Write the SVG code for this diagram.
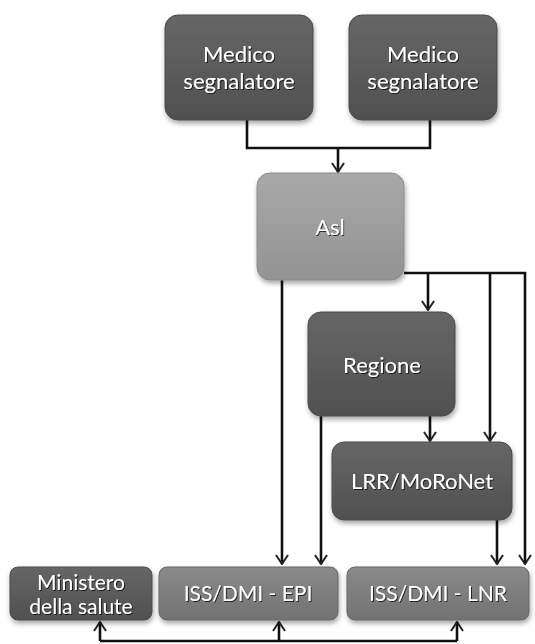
<svg xmlns="http://www.w3.org/2000/svg" width="535" height="644" viewBox="0 0 535 644">
<style>
.dark{fill:url(#gDark);stroke:#4a4a4a;stroke-width:1}
.light{fill:url(#gLight);stroke:#8a8a8a;stroke-width:1}
.mid{fill:url(#gMid);stroke:#666;stroke-width:1}
.t{font-family:Lato,"Open Sans",sans-serif;font-size:22px;fill:#fff;text-anchor:middle;filter:url(#ts)}
.s{font-size:21px}
.c{fill:none;stroke:#111;stroke-width:2.6}
</style>
<defs>
<linearGradient id="gDark" x1="0" y1="0" x2="0" y2="1"><stop offset="0" stop-color="#666"/><stop offset="1" stop-color="#505050"/></linearGradient>
<linearGradient id="gLight" x1="0" y1="0" x2="0" y2="1"><stop offset="0" stop-color="#a8a8a8"/><stop offset="1" stop-color="#939393"/></linearGradient>
<linearGradient id="gMid" x1="0" y1="0" x2="0" y2="1"><stop offset="0" stop-color="#8a8a8a"/><stop offset="1" stop-color="#727272"/></linearGradient>
<filter id="sh" x="-10%" y="-10%" width="125%" height="130%"><feDropShadow dx="1" dy="3" stdDeviation="2.5" flood-color="#000" flood-opacity="0.35"/></filter>
<filter id="ts" x="-5%" y="-20%" width="110%" height="140%"><feDropShadow dx="1" dy="1" stdDeviation="0.6" flood-color="#000" flood-opacity="0.7"/></filter>
<marker id="ar" viewBox="0 0 12 14" refX="11" refY="7" markerWidth="12" markerHeight="14" markerUnits="userSpaceOnUse" orient="auto">
<polyline points="2,1 11,7 2,13" fill="none" stroke="#222" stroke-width="2"/>
</marker>
</defs>
<rect width="535" height="644" fill="#fff"/>
<g id="connectors">
<path class="c" d="M247,120 V148 H430 V120"/>
<path class="c" d="M338,148 V172" marker-end="url(#ar)"/>
<path class="c" d="M404,273 H525 V564" marker-end="url(#ar)"/>
<path class="c" d="M428,273 V310" marker-end="url(#ar)"/>
<path class="c" d="M490,273 V441" marker-end="url(#ar)"/>
<path class="c" d="M282,280 V564" marker-end="url(#ar)"/>
<path class="c" d="M321,416 V564" marker-end="url(#ar)"/>
<path class="c" d="M430,416 V441" marker-end="url(#ar)"/>
<path class="c" d="M497,520 V564" marker-end="url(#ar)"/>
<path class="c" d="M100,641 H457"/>
<path class="c" d="M100,641 V622" marker-end="url(#ar)"/>
<path class="c" d="M279,641 V622" marker-end="url(#ar)"/>
<path class="c" d="M457,641 V622" marker-end="url(#ar)"/>
</g>
<g id="medico1"><rect class="dark" x="165" y="15" width="148" height="105" rx="13" filter="url(#sh)"/><text class="t" x="239" y="62">Medico</text><text class="t" x="239" y="89">segnalatore</text></g>
<g id="medico2"><rect class="dark" x="349" y="15" width="148" height="105" rx="13" filter="url(#sh)"/><text class="t" x="423" y="62">Medico</text><text class="t" x="423" y="89">segnalatore</text></g>
<g id="asl"><rect class="light" x="257" y="173" width="147" height="107" rx="13" filter="url(#sh)"/><text class="t" x="330" y="235">Asl</text></g>
<g id="regione"><rect class="dark" x="308" y="312" width="147" height="104" rx="13" filter="url(#sh)"/><text class="t" x="382" y="373">Regione</text></g>
<g id="lrr"><rect class="dark" x="332" y="442" width="180" height="78" rx="12" filter="url(#sh)"/><text class="t" x="422" y="489">LRR/MoRoNet</text></g>
<g id="ministero"><rect class="dark" x="10" y="567" width="142" height="53" rx="8" filter="url(#sh)"/><text class="t s" x="81" y="590">Ministero</text><text class="t s" x="81" y="614">della salute</text></g>
<g id="iss-epi"><rect class="mid" x="159" y="567" width="179" height="53" rx="8" filter="url(#sh)"/><text class="t s" x="248" y="601">ISS/DMI - EPI</text></g>
<g id="iss-lnr"><rect class="mid" x="347" y="567" width="182" height="53" rx="8" filter="url(#sh)"/><text class="t s" x="438" y="601">ISS/DMI - LNR</text></g>
</svg>
